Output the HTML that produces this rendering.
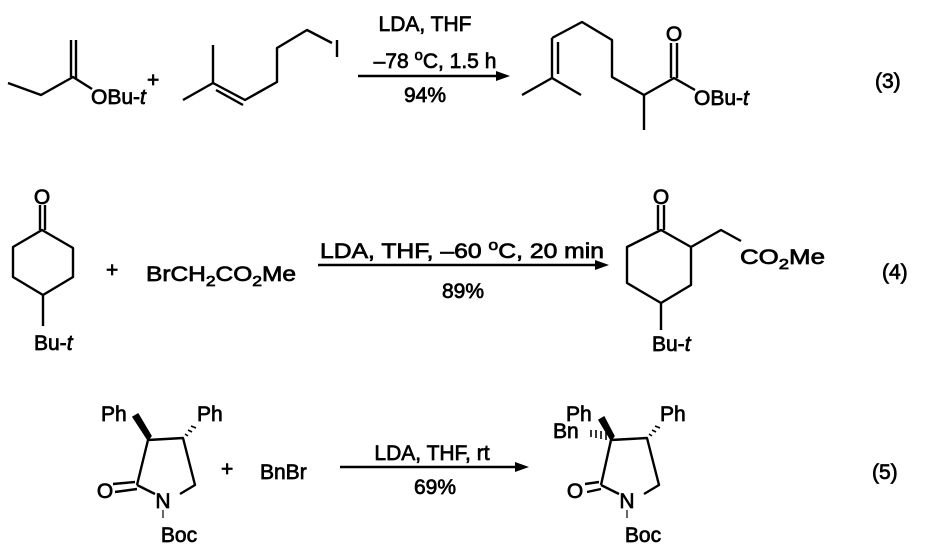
<!DOCTYPE html>
<html><head><meta charset="utf-8"><style>
html,body{margin:0;padding:0;background:#fff;}
svg{display:block;}
text{font-family:"Liberation Sans",Arial,sans-serif;font-size:21px;fill:#000;stroke:#000;stroke-width:0.7px;}
.l{stroke:#000;stroke-width:2.4;fill:none;stroke-linejoin:round;}
</style></head><body>
<svg width="928" height="551" viewBox="0 0 928 551" xmlns="http://www.w3.org/2000/svg">
<!-- Reaction 3 -->
<polyline class="l" points="8,83 41,95 73,77 92,89"/>
<line class="l" x1="71" y1="77" x2="71" y2="40"/><line class="l" x1="76" y1="79" x2="76" y2="40"/>
<text x="91" y="104">OBu-<tspan font-style="italic">t</tspan></text>
<text x="147" y="87">+</text>
<polyline class="l" points="183,100 213,83 245,100 277,82 277,48 307,30 332,43"/>
<line class="l" x1="213" y1="83" x2="213" y2="45"/>
<line class="l" x1="216" y1="90" x2="243" y2="105"/>
<line class="l" x1="337" y1="40" x2="337" y2="57"/>
<line class="l" x1="358" y1="76" x2="500" y2="76"/>
<polygon points="510,76 496,71 496,81" fill="#000"/>
<text x="425" y="31" text-anchor="middle">LDA, THF</text>
<text x="435" y="68" text-anchor="middle">–78 <tspan font-size="15" dy="-8">o</tspan><tspan dy="8">C, 1.5 h</tspan></text>
<text x="425" y="102" text-anchor="middle">94%</text>
<polyline class="l" points="522,95 552,78 581,95"/>
<line class="l" x1="552" y1="78" x2="552" y2="38"/><line class="l" x1="558" y1="74" x2="558" y2="42"/>
<polyline class="l" points="552,38 582,22 612,40 612,77 644,95 674,78 695,90"/>
<line class="l" x1="644" y1="95" x2="644" y2="130"/>
<line class="l" x1="671" y1="78" x2="671" y2="43"/><line class="l" x1="677" y1="78" x2="677" y2="43"/>
<text x="674" y="41" text-anchor="middle">O</text>
<text x="694" y="105">OBu-<tspan font-style="italic">t</tspan></text>
<text x="875" y="88">(3)</text>
<!-- Reaction 4 -->
<polygon class="l" points="42,230 73,248 73,277 43,295 13,277 13,247"/>
<line class="l" x1="40" y1="230" x2="40" y2="205"/><line class="l" x1="45" y1="230" x2="45" y2="205"/>
<text x="42" y="204" text-anchor="middle">O</text>
<line class="l" x1="43" y1="295" x2="43" y2="326"/>
<text x="34" y="350">Bu-<tspan font-style="italic">t</tspan></text>
<text x="106" y="277">+</text>
<text x="146" y="281" textLength="150" lengthAdjust="spacingAndGlyphs">BrCH<tspan font-size="15" dy="5">2</tspan><tspan dy="-5">CO</tspan><tspan font-size="15" dy="5">2</tspan><tspan dy="-5">Me</tspan></text>
<line class="l" x1="318" y1="265" x2="598" y2="265"/>
<polygon points="609,265 595,260 595,270" fill="#000"/>
<text x="320" y="258" textLength="284" lengthAdjust="spacingAndGlyphs">LDA, THF, –60 <tspan font-size="15" dy="-8">o</tspan><tspan dy="8">C, 20 min</tspan></text>
<text x="463" y="298" text-anchor="middle">89%</text>
<polygon class="l" points="661,230 691,247 691,285 661,303 627,283 627,247"/>
<line class="l" x1="658" y1="230" x2="658" y2="205"/><line class="l" x1="664" y1="230" x2="664" y2="205"/>
<text x="661" y="204" text-anchor="middle">O</text>
<polyline class="l" points="691,247 721,230 741,241"/>
<text x="740" y="264" textLength="85" lengthAdjust="spacingAndGlyphs">CO<tspan font-size="15" dy="5">2</tspan><tspan dy="-5">Me</tspan></text>
<line class="l" x1="661" y1="303" x2="661" y2="330"/>
<text x="652" y="351">Bu-<tspan font-style="italic">t</tspan></text>
<text x="882" y="279">(4)</text>
<!-- Reaction 5 -->
<polyline class="l" points="137,485 148,440 183,438 195,485 180,494"/>
<line class="l" x1="137" y1="485" x2="155" y2="494"/>
<line class="l" x1="135" y1="482" x2="113" y2="484"/><line class="l" x1="137" y1="489" x2="115" y2="492"/>
<text x="105" y="498" text-anchor="middle">O</text>
<text x="163" y="508" text-anchor="middle">N</text>
<line x1="163" y1="510" x2="163" y2="518" stroke="#000" stroke-width="1.2"/>
<text x="179" y="542" text-anchor="middle">Boc</text>
<polygon points="148,440 133,417 138,414 151,436" fill="#000" stroke="#000" stroke-width="1.5"/>
<text x="101" y="421">Ph</text>
<g stroke="#000" stroke-width="1.6"><line x1="185" y1="434" x2="188" y2="436"/><line x1="188" y1="430" x2="192" y2="432"/><line x1="191" y1="426" x2="196" y2="428"/></g>
<text x="197" y="421">Ph</text>
<text x="221" y="476">+</text>
<text x="260" y="479">BnBr</text>
<line class="l" x1="340" y1="467" x2="518" y2="467"/>
<polygon points="529,467 515,462 515,472" fill="#000"/>
<text x="432" y="460" text-anchor="middle">LDA, THF, rt</text>
<text x="435" y="494" text-anchor="middle">69%</text>
<polyline class="l" points="601,485 611,440 647,438 659,485 644,494"/>
<line class="l" x1="601" y1="485" x2="619" y2="494"/>
<line class="l" x1="599" y1="482" x2="585" y2="484"/><line class="l" x1="601" y1="489" x2="587" y2="492"/>
<text x="575" y="498" text-anchor="middle">O</text>
<text x="627" y="508" text-anchor="middle">N</text>
<line x1="627" y1="510" x2="627" y2="518" stroke="#000" stroke-width="1.2"/>
<text x="643" y="542" text-anchor="middle">Boc</text>
<polygon points="611,440 599,420 604,417 614,436" fill="#000" stroke="#000" stroke-width="1.5"/>
<text x="566" y="421">Ph</text>
<g stroke="#000" stroke-width="1.6"><line x1="591" y1="430" x2="591" y2="437"/><line x1="596" y1="430" x2="596" y2="438"/><line x1="601" y1="431" x2="601" y2="439"/><line x1="606" y1="432" x2="606" y2="440"/></g>
<text x="553" y="438">Bn</text>
<g stroke="#000" stroke-width="1.6"><line x1="649" y1="434" x2="652" y2="436"/><line x1="652" y1="430" x2="656" y2="432"/><line x1="655" y1="426" x2="660" y2="428"/></g>
<text x="660" y="421">Ph</text>
<text x="872" y="479">(5)</text>
</svg>
</body></html>
